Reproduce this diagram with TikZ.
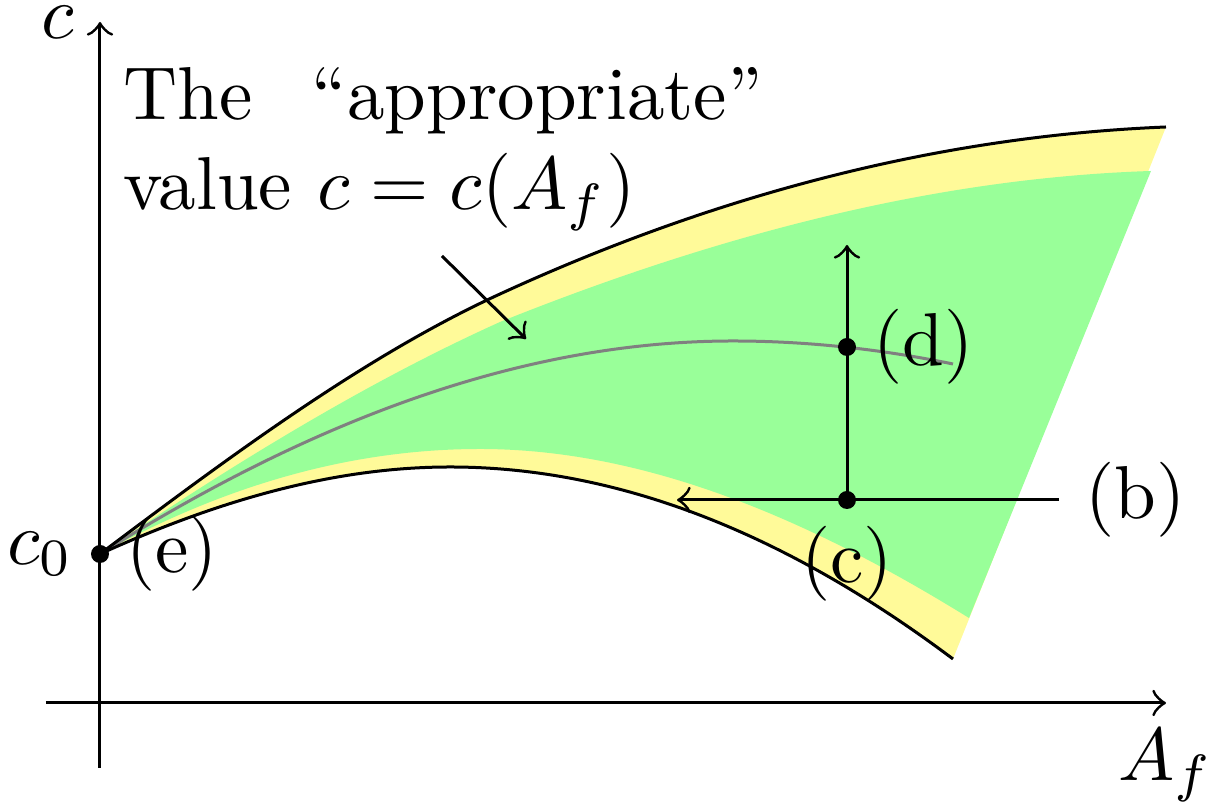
\documentclass[tikz,border=0pt]{standalone}
\newcommand{\UpperEdge}{(100,554) .. controls (233,454) and (367,355) .. (500,294) .. controls (722,192) and (944,136) .. (1166,127)}
\newcommand{\LowerEdgeBack}{(953,659) .. controls (785,533) and (618,467) .. (450,467) .. controls (333,467) and (217,501) .. (100,554)}
\begin{document}
\begin{tikzpicture}[x=0.13333pt,y=-0.13333pt,
  dot/.style={circle,fill=black,inner sep=0pt,minimum size=2.4pt},
  axis/.style={->,line width=0.4pt},
  bound/.style={line width=0.4pt},
  mid/.style={gray,line width=0.4pt}]
\useasboundingbox (0,0) rectangle (1217,802);
% regions
\fill[yellow!40] \UpperEdge -- \LowerEdgeBack -- cycle;
\fill[green!40] (100,554) .. controls (233,464) and (367,382) .. (500,322) .. controls (717,235) and (934,178) .. (1151,171)
  -- (969,618) .. controls (806,517) and (643,449) .. (480,449) .. controls (353,449) and (227,484) .. (100,554) -- cycle;
% middle curve
\draw[mid] (100,554) .. controls (311,421) and (522,341) .. (733,341) .. controls (806,341) and (880,349) .. (953,364);
% boundary curves
\draw[bound] \UpperEdge;
\draw[bound] \LowerEdgeBack;
% axes
\coordinate (ybot) at (100,768);
\coordinate (ytop) at (100,22);
\coordinate (xleft) at (46,703);
\coordinate (xright) at (1166,703);
\draw[axis] (ybot) -- (ytop);
\draw[axis] (xleft) -- (xright);
\node[left] (clab) at (ytop) {$c$};
\node[below] (aflab) at (xright) {$A_f$};
% points
\node[dot] (c0) at (100,554) {};
\node[dot] (d) at (847,347) {};
\node[dot] (cpt) at (847,500) {};
\coordinate (vtip) at (847,245);
\coordinate (bstart) at (1059,500);
\coordinate (htip) at (677,500);
\draw[->] (cpt.center) -- (vtip);
\draw[->] (bstart) -- (htip);
\node[left] (c0lab) at (c0.center) {$c_0$};
\node[right] (elab) at (c0.center) {(e)};
\node[right] (dlab) at (d.center) {(d)};
\node[right] (blab) at (bstart) {(b)};
\node[below] (clab2) at (cpt.center) {(c)};
% annotation
\node[anchor=north west,inner sep=0pt,text width=85.2pt,align=left] (note) at (122,66) {The\hfill``appropriate''\\value $c=c(A_f)$};
\coordinate (astart) at (442,256);
\coordinate (aend) at (526,339);
\draw[->] (astart) -- (aend);
\end{tikzpicture}
\end{document}
